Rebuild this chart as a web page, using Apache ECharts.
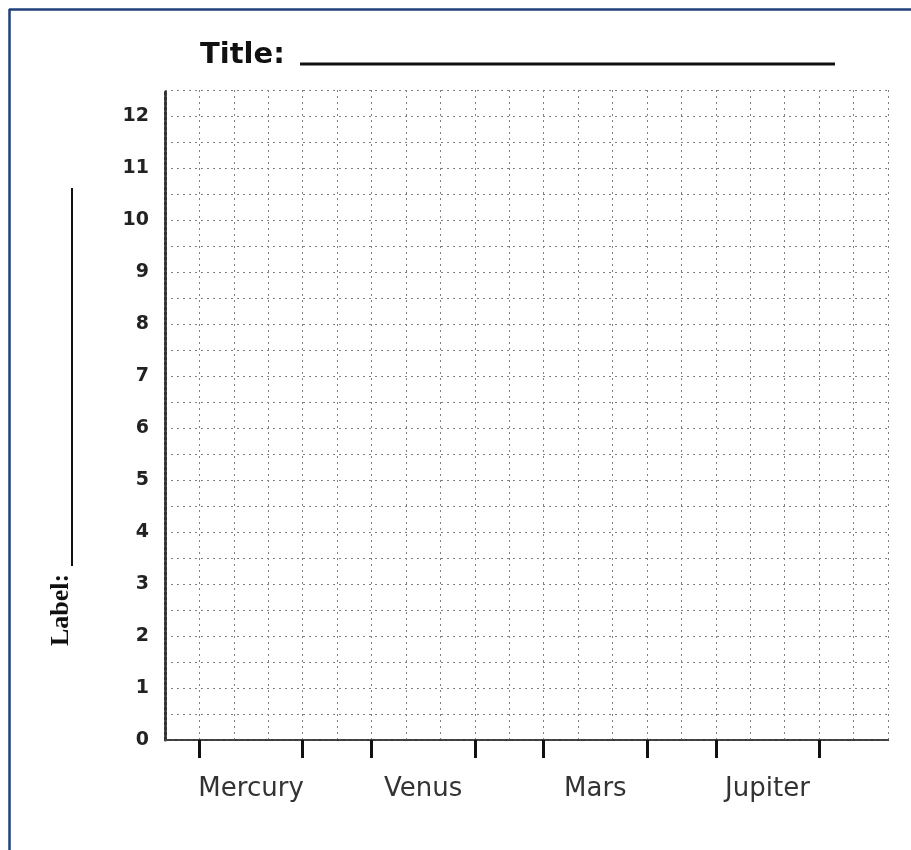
<!DOCTYPE html>
<html>
<head>
<meta charset="utf-8">
<script src="https://cdn.jsdelivr.net/npm/echarts@6/dist/echarts.min.js"></script>
<style>
  html, body { margin: 0; padding: 0; background: #fff; }
  #chart { width: 911px; height: 850px; }
</style>
</head>
<body>
<div id="chart"></div>
<script>
// Blank graph template: categories and axis ticks
const categories = ['Mercury', 'Venus', 'Mars', 'Jupiter'];
const categoryLabelPositions = [2.5, 7.5, 12.5, 17.5];
const categoryTickPositions = [1, 4, 6, 9, 11, 14, 16, 19];
const yTickLabels = [0, 1, 2, 3, 4, 5, 6, 7, 8, 9, 10, 11, 12];
const seriesValues = []; // template has no plotted data

const chart = echarts.init(document.getElementById('chart'));

const gridLine = { show: true, lineStyle: { color: '#808080', type: [2, 4], width: 1 } };

chart.setOption({
  animation: false,
  backgroundColor: '#fff',
  grid: { left: 165, right: 23, top: 90, bottom: 110 },
  xAxis: [
    {
      type: 'value', min: 0, max: 21, position: 'bottom',
      axisLine: { show: true, lineStyle: { color: '#222', width: 2 } },
      axisTick: { show: true, customValues: categoryTickPositions, length: 18, lineStyle: { color: '#111', width: 3 } },
      axisLabel: {
        show: true, customValues: categoryLabelPositions, margin: 36,
        fontFamily: 'DejaVu Sans', fontSize: 26, color: '#333',
        formatter: v => { const i = categoryLabelPositions.indexOf(v); return i >= 0 ? categories[i] : ''; }
      },
      splitLine: { show: false }
    },
    {
      type: 'value', min: 0, max: 21, interval: 1, position: 'top',
      axisLine: { show: true, lineStyle: { color: '#444', width: 2, type: [4, 2] } },
      axisTick: { show: false }, axisLabel: { show: false },
      splitLine: gridLine
    }
  ],
  yAxis: [
    {
      type: 'value', min: 0, max: 12.5, position: 'left',
      axisLine: { show: true, lineStyle: { color: '#333', width: 3, type: [3, 2] } },
      axisTick: { show: false },
      axisLabel: {
        show: true, customValues: yTickLabels, margin: 16,
        fontFamily: 'DejaVu Sans', fontWeight: 'bold', fontSize: 19, color: '#222'
      },
      splitLine: { show: false }
    },
    {
      type: 'value', min: 0, max: 12.5, interval: 0.5, position: 'right',
      axisLine: { show: false }, axisTick: { show: false }, axisLabel: { show: false },
      splitLine: gridLine
    }
  ],
  series: [
    { type: 'line', xAxisIndex: 0, yAxisIndex: 0, data: seriesValues, silent: true }
  ],
  graphic: [
    { type: 'line', shape: { x1: 9, y1: 9.5, x2: 911, y2: 9.5 }, style: { stroke: '#1e3f7a', lineWidth: 2.5 } },
    { type: 'line', shape: { x1: 9.5, y1: 9, x2: 9.5, y2: 850 }, style: { stroke: '#1e3f7a', lineWidth: 2.5 } },
    { type: 'text', x: 200, y: 55, style: { text: 'Title:', fontFamily: 'DejaVu Sans', fontWeight: 'bold', fontSize: 29, fill: '#111', verticalAlign: 'middle', align: 'left' } },
    { type: 'line', shape: { x1: 300, y1: 64, x2: 835, y2: 64 }, style: { stroke: '#111', lineWidth: 3 } },
    { type: 'text', x: 61, y: 610, rotation: Math.PI / 2, style: { text: 'Label:', fontFamily: 'Liberation Serif', fontWeight: 'bold', fontSize: 26, fill: '#111', verticalAlign: 'middle', align: 'center' } },
    { type: 'line', shape: { x1: 72, y1: 188, x2: 72, y2: 566 }, style: { stroke: '#111', lineWidth: 2 } }
  ]
});
</script>
</body>
</html>
